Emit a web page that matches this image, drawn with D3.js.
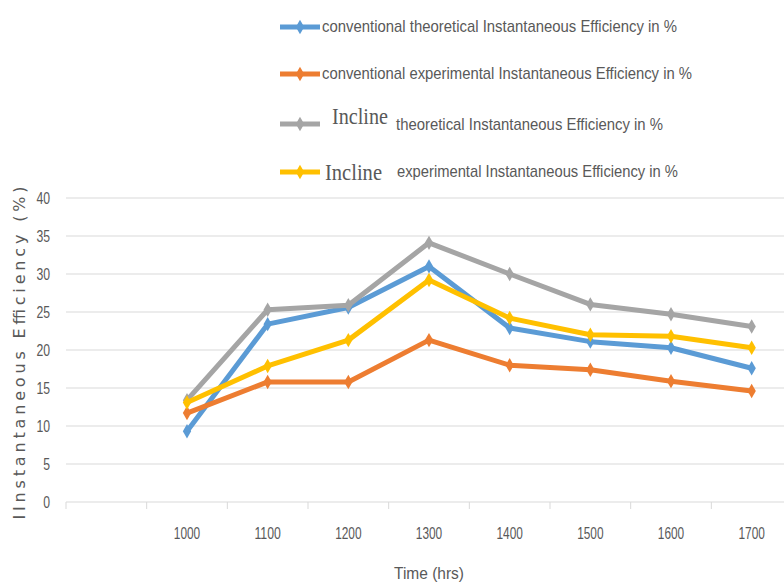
<!DOCTYPE html>
<html>
<head>
<meta charset="utf-8">
<script src="https://cdn.jsdelivr.net/npm/d3@7"></script>
<style>
  body { margin: 0; background: #fff; }
  svg { display: block; }
</style>
</head>
<body>
<div id="chart"></div>
<script>
// data
const categories = ['1000', '1100', '1200', '1300', '1400', '1500', '1600', '1700'];
const convTheoretical  = [9.3, 23.4, 25.6, 31.0, 22.9, 21.1, 20.3, 17.6];
const convExperimental = [11.7, 15.8, 15.8, 21.3, 18.0, 17.4, 15.9, 14.6];
const inclTheoretical  = [13.4, 25.3, 25.9, 34.1, 30.0, 26.0, 24.7, 23.1];
const inclExperimental = [13.1, 17.9, 21.3, 29.2, 24.2, 22.0, 21.8, 20.3];
const yTicks = [0, 5, 10, 15, 20, 25, 30, 35, 40];

const W = 784, H = 585;
const margin = {left: 66, right: -8, top: 198, bottom: 83};
const grey = '#595959';
const narrow = "'Liberation Sans', Arial, sans-serif";

const series = [
  {key: 'ct', values: convTheoretical,  color: '#5B9BD5', pre: null,      text: 'conventional theoretical  Instantaneous Efficiency in %',  tx: 322, tw: 355, ty: 27},
  {key: 'ce', values: convExperimental, color: '#ED7D31', pre: null,      text: 'conventional experimental  Instantaneous Efficiency in %', tx: 322, tw: 370, ty: 74},
  {key: 'it', values: inclTheoretical,  color: '#A5A5A5', pre: 'Incline', text: 'theoretical  Instantaneous Efficiency in %',               tx: 396, tw: 267, ty: 124, px: 332, pw: 56, pdy: 0, tdy: 6},
  {key: 'ie', values: inclExperimental, color: '#FFC000', pre: 'Incline', text: 'experimental  Instantaneous Efficiency in %',              tx: 397, tw: 281, ty: 172, px: 325, pw: 57, pdy: 8, tdy: 5}
];

const svg = d3.select('#chart')
  .append('svg')
  .attr('width', W)
  .attr('height', H);

svg.append('rect').attr('width', W).attr('height', H).attr('fill', '#fff');

// leading empty slot, like the original Excel chart
const x = d3.scaleBand()
  .domain([''].concat(categories))
  .range([margin.left, W - margin.right]);

const y = d3.scaleLinear()
  .domain([0, 40])
  .range([H - margin.bottom, margin.top]);

// condensed look: squeeze glyphs horizontally
const squeeze = (sel, perChar) => sel
  .attr('textLength', d => String(d).length * perChar)
  .attr('lengthAdjust', 'spacingAndGlyphs');

// gridlines
svg.append('g')
  .selectAll('line')
  .data(yTicks)
  .join('line')
  .attr('x1', margin.left)
  .attr('x2', W)
  .attr('y1', d => y(d))
  .attr('y2', d => y(d))
  .attr('stroke', '#d9d9d9')
  .attr('stroke-width', 1.2);

// y tick labels
svg.append('g')
  .selectAll('text')
  .data(yTicks)
  .join('text')
  .attr('x', 50)
  .attr('y', d => y(d))
  .attr('dy', '0.35em')
  .attr('text-anchor', 'end')
  .attr('fill', grey)
  .style('font-family', narrow)
  .style('font-size', '17px')
  .call(squeeze, 6.8)
  .text(d => d);

// x axis ticks between slots
const bounds = x.domain().map(d => x(d)).concat([x.range()[1]]);
svg.append('g')
  .selectAll('line')
  .data(bounds)
  .join('line')
  .attr('x1', d => d)
  .attr('x2', d => d)
  .attr('y1', y(0))
  .attr('y2', y(0) + 7)
  .attr('stroke', '#d9d9d9');

svg.append('g')
  .selectAll('text')
  .data(categories)
  .join('text')
  .attr('x', d => x(d) + x.bandwidth() / 2)
  .attr('y', 539)
  .attr('text-anchor', 'middle')
  .attr('fill', grey)
  .style('font-family', narrow)
  .style('font-size', '17px')
  .call(squeeze, 6.6)
  .text(d => d);

// axis titles
svg.append('text')
  .attr('x', (margin.left + W - margin.right) / 2)
  .attr('y', 579)
  .attr('text-anchor', 'middle')
  .attr('fill', grey)
  .attr('textLength', 70)
  .attr('lengthAdjust', 'spacingAndGlyphs')
  .style('font-family', narrow)
  .style('font-size', '17px')
  .text('Time (hrs)');

svg.append('text')
  .attr('transform', `translate(25, 353) rotate(-90)`)
  .attr('text-anchor', 'middle')
  .attr('fill', grey)
  .attr('textLength', 333)
  .attr('lengthAdjust', 'spacing')
  .style('font-family', "'DejaVu Sans', Verdana, sans-serif")
  .style('font-size', '16px')
  .text('IInstantaneous Efficiency (%)');

// lines + markers
const line = d3.line()
  .x((d, i) => x(categories[i]) + x.bandwidth() / 2)
  .y(d => y(d));

const diamond = d3.symbol().type(d3.symbolDiamond).size(60);

const sg = svg.append('g')
  .selectAll('g.series')
  .data(series)
  .join('g')
  .attr('class', 'series');

sg.append('path')
  .attr('d', s => line(s.values))
  .attr('fill', 'none')
  .attr('stroke', s => s.color)
  .attr('stroke-width', 5)
  .attr('stroke-linejoin', 'round');

sg.each(function(s) {
  d3.select(this).selectAll('path.mk')
    .data(s.values)
    .join('path')
    .attr('class', 'mk')
    .attr('d', diamond)
    .attr('transform', (d, i) => `translate(${x(categories[i]) + x.bandwidth() / 2},${y(d)})`)
    .attr('fill', s.color);
});

// legend
const lg = svg.append('g')
  .selectAll('g.leg')
  .data(series)
  .join('g')
  .attr('class', 'leg');

lg.append('line')
  .attr('x1', 280).attr('x2', 320)
  .attr('y1', s => s.ty).attr('y2', s => s.ty)
  .attr('stroke', s => s.color)
  .attr('stroke-width', 5);

lg.append('path')
  .attr('d', diamond)
  .attr('transform', s => `translate(300,${s.ty})`)
  .attr('fill', s => s.color);

lg.filter(s => s.pre)
  .append('text')
  .attr('x', s => s.px)
  .attr('y', s => s.ty + s.pdy)
  .attr('textLength', s => s.pw)
  .attr('lengthAdjust', 'spacingAndGlyphs')
  .attr('fill', grey)
  .style('font-family', "'Liberation Serif', 'Times New Roman', serif")
  .style('font-size', '24px')
  .text(s => s.pre);

lg.append('text')
  .attr('x', s => s.tx)
  .attr('y', s => s.ty + (s.tdy || 5))
  .attr('textLength', s => s.tw)
  .attr('lengthAdjust', 'spacingAndGlyphs')
  .attr('fill', grey)
  .style('font-family', narrow)
  .style('font-size', '17px')
  .text(s => s.text);
</script>
</body>
</html>
